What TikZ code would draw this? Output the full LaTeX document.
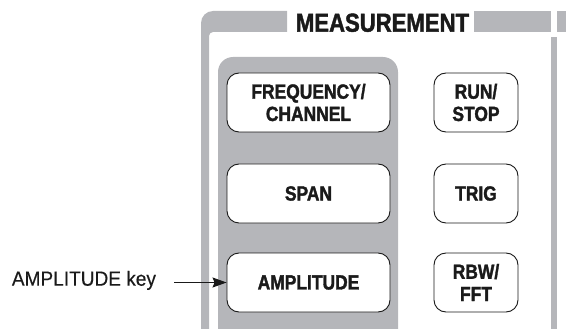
\documentclass[tikz,border=0pt]{standalone}
\usepackage{fontspec}
\setmainfont{Liberation Sans}
\newfontfamily\condfont[FakeStretch=0.85, BoldFeatures={FakeBold=1.6}]{Liberation Sans}
\newfontfamily\labfont[FakeStretch=0.93, FakeBold=0.4]{Liberation Sans}
\usetikzlibrary{arrows.meta}
\definecolor{panelgrey}{HTML}{B5B6BA}
\definecolor{ink}{HTML}{1A1A1A}
\begin{document}
\begin{tikzpicture}[x=1pt,y=-1pt,
  keybox/.style={draw=ink, line width=0.9pt, fill=white, rounded corners=12pt,
    minimum height=59pt, inner sep=0pt, align=center, text=ink,
    font=\condfont\bfseries\fontsize{20.5}{22.3}\selectfont},
  widekey/.style={keybox, minimum width=163pt},
  narrowkey/.style={keybox, minimum width=84pt},
  greyfill/.style={fill=panelgrey},
  arr/.style={draw=ink, line width=1.2pt, -{Stealth[length=14pt,width=10pt,inset=2pt]}}
]
\useasboundingbox (0,0) rectangle (566,329);
% outer frame
\fill[greyfill] (201,340) -- (201,23) arc[start angle=180, end angle=270, radius=12]
  -- (287,11) -- (287,32) -- (213,32) arc[start angle=270, end angle=180, radius=4]
  -- (209,340) -- cycle;
\fill[greyfill] (474,11) rectangle (551,32);
\fill[greyfill] (557,11) rectangle (566,32);
\fill[greyfill] (551,37) rectangle (557,340);
\node[font=\condfont\bfseries\fontsize{26}{30}\selectfont, text=ink, anchor=base, inner sep=0pt] (title) at (382.5,31.7) {MEASUREMENT};
% grey panel
\fill[greyfill, rounded corners=15pt] (218,57) rectangle (398,360);
% keys
\node[widekey] (freq) at (308.5,102.5) {FREQUENCY/\\CHANNEL};
\node[widekey] (span) at (308.5,193.5) {SPAN};
\node[widekey] (amp) at (308.5,282.5) {AMPLITUDE};
\node[narrowkey] (run) at (476,102.5) {RUN/\\STOP};
\node[narrowkey] (trig) at (476,193.5) {TRIG};
\node[narrowkey] (rbw) at (476,282.5) {RBW/\\FFT};
% label and arrow
\node[font=\labfont\fontsize{20.5}{24}\selectfont, text=ink, anchor=base west, inner sep=0pt] (lbl) at (11.7,285.7) {AMPLITUDE key};
\draw[arr, shorten <=18pt] (lbl.east |- amp.west) -- (amp.west);
\end{tikzpicture}
\end{document}
